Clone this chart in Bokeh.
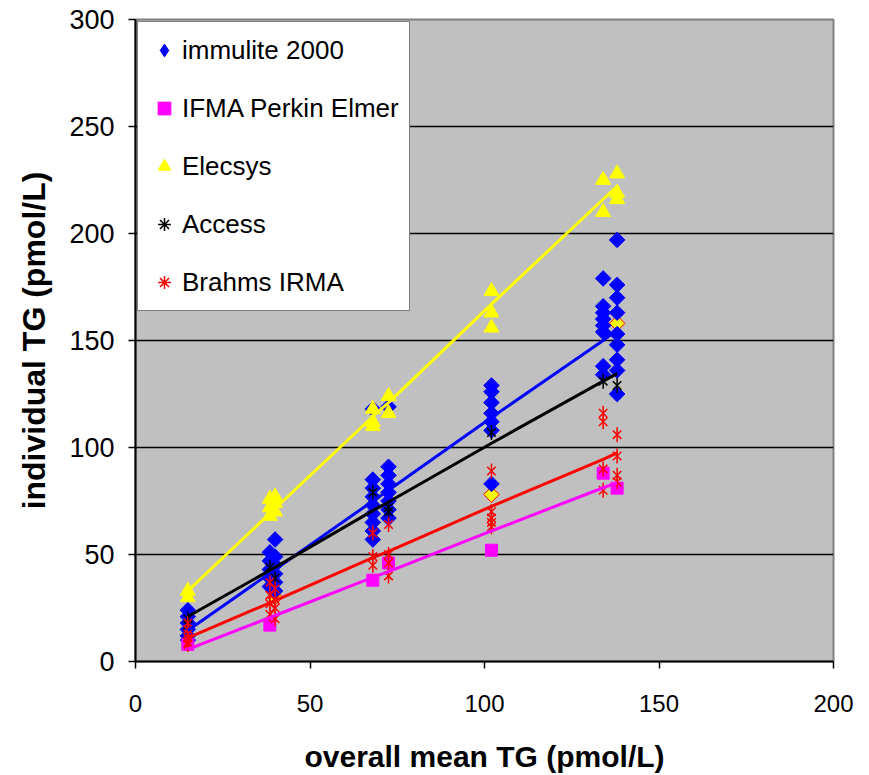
import math
from bokeh.plotting import figure
from bokeh.models import Range1d, SingleIntervalTicker, Legend, LegendItem
from bokeh.embed import file_html
from bokeh.resources import INLINE

# ---------------- data ----------------
x_ticks = [0, 50, 100, 150, 200]
y_ticks = [0, 50, 100, 150, 200, 250, 300]

imm_x = [15, 15, 15, 15, 15, 15,
         38.5, 38.5, 38.5, 38.5, 38.5,
         40, 40, 40, 40, 40, 40,
         68, 68, 68, 68, 68, 68, 68, 68, 68,
         72.5, 72.5, 72.5, 72.5, 72.5, 72.5, 72.5, 72.5,
         102, 102, 102, 102, 102, 102, 102,
         134, 134, 134, 134, 134, 134, 134, 134,
         138, 138, 138, 138, 138, 138, 138, 138, 138]
imm_y = [24, 21, 18, 15, 12, 10,
         51, 47, 43, 39, 35,
         57, 49, 45, 41, 37, 33,
         118, 85, 81, 77, 73, 69, 65, 61, 57,
         119, 91, 87, 83, 79, 75, 71, 67,
         129, 126, 121, 116, 112, 108, 83,
         179, 166, 163, 160, 157, 154, 138, 134,
         197, 176, 170, 163, 153, 148, 141, 136, 125]

ifma_x = [15, 38.5, 68, 72.5, 102, 134, 138]
ifma_y = [8, 17, 38, 46, 52, 88, 81]

ele_x = [15, 15, 38.5, 38.5, 38.5, 40, 40, 40, 68, 68, 68, 72.5, 72.5,
         102, 102, 102, 134, 134, 138, 138, 138]
ele_y = [30, 33, 68, 72, 76, 70, 74, 77, 110, 112, 118, 116, 124,
         156, 163, 173, 210, 225, 216, 219, 228]

acc_x = [15, 15, 38.5, 40, 68, 72.5, 72.5, 102, 134, 138]
acc_y = [20, 17, 44, 39, 79, 70, 72, 107, 131, 129]

bra_x = [15, 15, 15, 15, 15, 15,
         38.5, 38.5, 38.5, 38.5, 40, 40, 40, 40,
         68, 68, 68, 72.5, 72.5, 72.5, 72.5,
         102, 102, 102, 102, 102,
         134, 134, 134, 134, 138, 138, 138, 138]
bra_y = [18, 15, 13, 11, 9, 8,
         37, 31, 27, 22, 34, 29, 25, 20,
         60, 49, 45, 64, 50, 46, 40,
         89, 70, 67, 65, 63,
         116, 112, 90, 80, 106, 96, 87, 84]

other_x = [40, 102, 138]
other_y = [30, 78, 158]

# trend lines
fit_x = [15, 40, 68, 72.5, 102, 134, 138]
fit_imm = [14.5, 43, 75, 80, 114, 150, 155]
fit_ifma = [5.7, 21.5, 39.3, 42, 61, 81.2, 83.5]
fit_ele = [33, 71.5, 114.5, 121, 167, 216, 222]
fit_acc = [21, 44, 70.5, 74.5, 102, 131, 134.5]
fit_bra = [11, 28.5, 48.5, 51.5, 72.5, 94.5, 97.5]

labels = ["immulite 2000", "IFMA Perkin Elmer", "Elecsys", "Access", "Brahms IRMA"]

FONT = "Liberation Sans"

p = figure(width=869, height=775, output_backend="svg", toolbar_location=None,
           x_range=Range1d(0, 200), y_range=Range1d(0, 300),
           min_border_left=135, min_border_right=36, min_border_top=19,
           min_border_bottom=114)

p.background_fill_color = "#C0C0C0"
p.border_fill_color = "white"
p.outline_line_color = "#808080"
p.outline_line_width = 2

p.xgrid.visible = False
p.ygrid.grid_line_color = "black"
p.ygrid.grid_line_width = 1.5
p.ygrid.ticker = SingleIntervalTicker(interval=50)

for ax in (p.xaxis[0], p.yaxis[0]):
    ax.axis_line_color = "black"
    ax.axis_line_width = 2
    ax.major_tick_line_color = "black"
    ax.major_tick_line_width = 1.5
    ax.major_tick_in = 0
    ax.major_tick_out = 7
    ax.minor_tick_line_color = None
    ax.major_label_text_font = FONT
    ax.major_label_text_color = "black"
    ax.axis_label_text_font = FONT
    ax.axis_label_text_font_style = "bold"
    ax.axis_label_text_color = "black"

p.xaxis[0].ticker = x_ticks
p.yaxis[0].ticker = y_ticks
p.xaxis[0].axis_label = "overall mean TG (pmol/L)"
p.yaxis[0].axis_label = "individual TG (pmol/L)"
p.xaxis[0].major_label_text_font_size = "24px"
p.yaxis[0].major_label_text_font_size = "27px"
p.xaxis[0].axis_label_text_font_size = "30px"
p.yaxis[0].axis_label_text_font_size = "32px"
p.xaxis[0].major_label_standoff = 26
p.xaxis[0].axis_label_standoff = 25
p.yaxis[0].major_label_standoff = 14
p.yaxis[0].axis_label_standoff = 14

# unlabelled series (yellow / red diamonds)
p.scatter(other_x, other_y, marker="square", angle=math.pi / 4, size=11,
          fill_color="yellow", line_color="red", line_width=1)

r_imm = p.scatter(imm_x, imm_y, marker="square", angle=math.pi / 4, size=11,
                  fill_color="#0000FF", line_color="#0000FF", line_width=1)
r_ifma = p.scatter(ifma_x, ifma_y, marker="square", size=12,
                   fill_color="#FF00FF", line_color="#FF00FF")
r_ele = p.scatter(ele_x, ele_y, marker="triangle", size=15,
                  fill_color="yellow", line_color="yellow")
r_acc1 = p.scatter(acc_x, acc_y, marker="x", size=12, line_color="black", line_width=1.5)
r_acc2 = p.scatter(acc_x, acc_y, marker="dash", angle=math.pi / 2, size=15,
                   line_color="black", line_width=1.5)
r_bra1 = p.scatter(bra_x, bra_y, marker="x", size=12, line_color="red", line_width=1.5)
r_bra2 = p.scatter(bra_x, bra_y, marker="dash", angle=math.pi / 2, size=15,
                   line_color="red", line_width=1.5)

# trend lines over the markers
p.line(fit_x, fit_imm, line_color="#0000FF", line_width=3)
p.line(fit_x, fit_ifma, line_color="#FF00FF", line_width=3)
p.line(fit_x, fit_ele, line_color="yellow", line_width=3)
p.line(fit_x, fit_acc, line_color="black", line_width=3)
p.line(fit_x, fit_bra, line_color="red", line_width=3)

# legend-only proxies (legend glyphs are drawn unrotated)
nan = [float("nan")]
lg_imm = p.scatter(nan, nan, marker="diamond", fill_color="#0000FF", line_color="#0000FF")
lg_acc = p.scatter(nan, nan, marker="asterisk", line_color="black", line_width=1.5)
lg_bra = p.scatter(nan, nan, marker="asterisk", line_color="red", line_width=1.5)

legend = Legend(items=[
    LegendItem(label=labels[0], renderers=[lg_imm]),
    LegendItem(label=labels[1], renderers=[r_ifma]),
    LegendItem(label=labels[2], renderers=[r_ele]),
    LegendItem(label=labels[3], renderers=[lg_acc]),
    LegendItem(label=labels[4], renderers=[lg_bra]),
], location="top_left")
legend.margin = 2
legend.padding = 10
legend.spacing = 22
legend.glyph_width = 32
legend.glyph_height = 36
legend.label_height = 36
legend.label_standoff = 2
legend.label_text_font = FONT
legend.label_text_font_size = "26px"
legend.label_text_color = "black"
legend.border_line_color = "black"
legend.border_line_width = 1.5
legend.background_fill_color = "white"
legend.background_fill_alpha = 1
p.add_layout(legend)

open("out.html", "w").write(file_html(p, INLINE))
